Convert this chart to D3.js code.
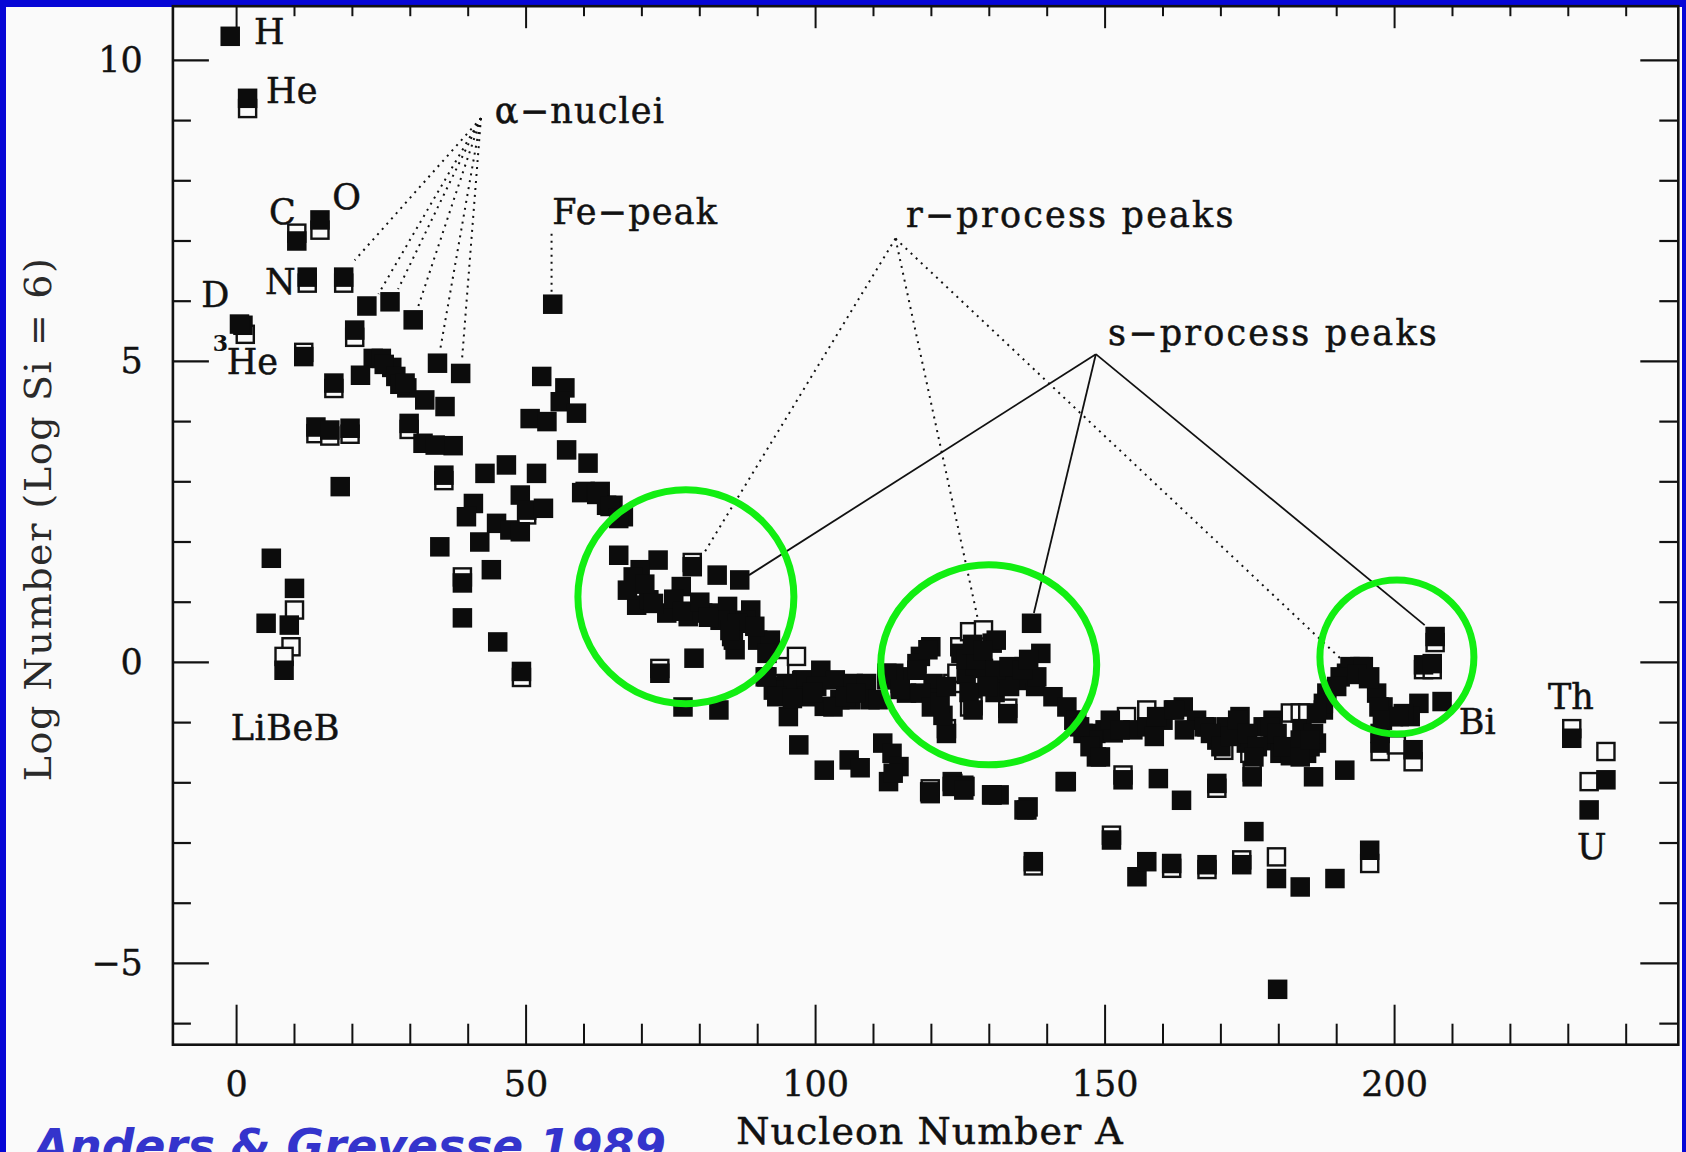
<!DOCTYPE html>
<html>
<head>
<meta charset="utf-8">
<script src="https://cdn.jsdelivr.net/npm/d3@7"></script>
<style>
  html, body { margin: 0; padding: 0; background: #0606d6; }
  svg { display: block; }
</style>
</head>
<body>
<div id="chart"></div>
<script>
// solar system abundances (A, log N with log Si = 6)
// filled squares
var filledMass = [
  -1.1, 1.9, 1.1, 0.5, 6.0, 10, 5.1, 9.1, 8.2, 10.4, 14.4, 12.2, 18.5, 11.6, 20.4,
  22.5, 26.5, 30.5, 34.7, 38.7, 23.6, 26.8, 21.4, 29.4, 16.8, 25, 25.5, 27.5, 28.2,
  13.7, 16.1, 19.6, 29.8, 32.2, 37.4, 36, 32.5, 29.1, 34.3, 17.9,
  35.8, 42.9, 46.6, 51.8, 40.9, 39.7, 49, 50.1, 53, 44.9, 47.2, 49, 35.1, 42, 39, 39, 44, 45.1, 49.2,
  54.6, 52.7, 56.7, 55.9, 58.7, 50.7, 53.6, 57, 60.7, 60.2, 62.8, 65, 66.8, 59.6, 62.2, 63.9,
  62.3, 64.5, 66, 66, 72.8, 69.7, 68.5, 78.7, 83, 86.9, 76.8, 69.1, 71.2, 74.3, 78, 80.5, 82.3,
  84.8, 88.8, 87.9, 85.5, 86.1, 90, 92.2, 79, 73.1, 77.1, 83.3, 91.3, 93.2, 97.8, 100.9, 103.4,
  67.5, 70.5, 72, 75.5, 77, 80, 83.5, 86.5, 89.5, 81.5, 85.8, 85.2, 91.6,
  95.3, 97.1, 101.5, 105.8, 107.7, 111.6, 113.2, 114.4, 112.6, 119.7, 123.7, 125.8, 130.5, 131.7,
  136.7, 143.1, 136,
  95, 92.7, 100.2, 104.2, 106.5, 108.8, 109.4, 112.3, 114.6, 115.7, 118.1, 119.9, 120.3, 121,
  122.6, 91.6, 93.3, 98.5, 101.5, 106, 96, 99.5, 103, 105.2, 107, 110.8,
  113.5, 117.5, 119.4, 118.1, 120, 122, 128.4, 130.5, 131.2, 132.3, 135, 136, 137.3, 138.9, 138,
  141, 143.4, 144.6, 148.4, 150, 112.3, 114.6, 117.5, 121.5, 122.6, 135.3, 138.2, 146.2, 147.9,
  148.5, 126, 127.5, 129, 131, 133.5, 125.1, 126, 127.7, 127.1, 128.9, 131.1, 133.4, 135.7,
  136.8, 129.8, 126.5, 127.2, 133.2,
  113.4, 119.8, 123.6, 125.6, 130.4, 136.5, 137.6, 143.3, 153.1, 151.1, 155.5, 157.2, 161.5,
  159.2, 163.2, 169.3, 167.6, 173.6, 175.4, 175.7, 179.6, 183.7, 186, 189.7, 191.4, 195.7, 179.8,
  145.1, 151.4, 154.8, 160, 161.8, 163.5, 165.8, 167.6, 169.3, 171, 173.3, 174.4, 177.3, 179,
  179, 184, 186.5, 184.8, 180.2, 182, 187.7, 188.3, 191.7, 194, 195.7, 196.9, 198, 199.8, 197.5,
  145.6, 147.4, 149.2, 150.9, 152.6, 157.2, 158.9, 158.5, 162, 163.7, 167.1, 168.2, 170, 171.7,
  172.9, 174.6, 176.3, 175.7, 178.5, 179.7, 180.8, 183.7, 185.4, 183.7, 186,
  192.3, 194.6, 190.6, 190, 193.5, 195.5, 197.3, 197.9, 187.7, 186.5, 185.4,
  207, 205, 206.5, 208.2, 204.2, 202.7, 201.5, 200.8, 197.5, 203.2,
  230.6, 236.5, 233.6
];
var filledLog = [
  10.4, 9.37, 5.6, 5.62, 1.73, 1.23, 0.65, 0.62, -0.13, 7.0, 7.35, 6.4, 6.4, 5.08, 5.52,
  5.92, 5.99, 5.69, 4.97, 4.8, 5.05, 4.9, 4.77, 4.56, 4.64, 5.05, 4.95, 4.75, 4.62,
  3.91, 3.86, 3.89, 3.97, 3.64, 3.6, 4.25, 4.36, 4.64, 3.61, 2.92,
  3.11, 3.14, 3.28, 3.14, 2.64, 2.42, 2.78, 2.53, 2.56, 2.31, 2.2, 2.17, 1.92, 2.0, 1.32, 0.74, 1.54, 0.34, -0.15,
  5.95, 4.75, 4.56, 4.33, 4.14, 4.05, 4.0, 3.53, 3.31, 2.84, 2.84, 2.61, 2.42, 2.82, 2.79, 2.61,
  2.81, 2.59, 2.39, 1.78, 1.70, 1.54, 1.42, 1.59, 1.45, 1.37, 1.26, 0.95, 1.04, 0.82, 0.76, 0.82, 0.82,
  0.93, 0.87, 0.70, 0.43, 0.21, 0.37, 0.37, 0.07, -0.18, -0.74, -0.79, -0.24, -0.4, -0.29, -0.13, -0.29,
  1.2, 1.3, 0.98, 1.05, 0.85, 1.0, 0.7, 0.65, 0.6, 0.75, 0.37, 0.53, 0.15,
  -0.9, -1.37, -1.79, -1.62, -1.75, -1.34, -1.51, -1.73, -1.98, -2.15, -2.01, -2.06, -2.2, -2.2,
  -2.4, -1.98, -2.45,
  -0.35, -0.46, -0.4, -0.62, -0.35, -0.35, -0.62, -0.29, -0.24, -0.51, 0.1, 0.26, -0.35, -0.6,
  -1.18, -0.24, -0.57, -0.57, -0.73, -0.62, -0.6, -0.5, -0.74, -0.57, -0.51, -0.62,
  -0.18, -0.02, 0.21, -0.51, -0.74, -0.88, 0.1, 0.32, 0.37, -0.24, -0.3, -0.07, 0.65, 0.15, -0.4,
  -0.57, -0.74, -0.96, -1.18, -1.12, -0.18, -0.45, -0.13, -0.67, -0.4, -0.18, -0.24, -1.18, -1.29,
  -1.57, -0.2, -0.05, -0.1, -0.5, -0.4, 0.15, 0.05, 0.05, 0.3, 0.2, -0.13, -0.07, -0.13,
  0.05, -0.4, -0.5, -0.79, -0.85,
  -1.84, -2.18, -2.06, -2.12, -2.2, -2.45, -3.31, -1.98, -1.95, -2.95, -3.56, -3.31, -3.34,
  -1.93, -2.29, -2.01, -3.36, -3.36, -1.9, -2.81, -3.59, -3.73, -1.9, -3.59, -1.79, -3.12, -5.43,
  -0.96, -1.17, -1.12, -0.96, -0.79, -0.74, -0.96, -1.07, -1.29, -1.07, -0.9, -1.34, -1.07, -0.96,
  -1.3, -1.1, -1.34, -1.51, -1.51, -1.55, -0.79, -0.51, -0.18, -0.07, -0.24, -0.51, -0.74, -0.9, -1.18,
  -1.07, -1.4, -1.57, -0.96, -1.12, -1.07, -0.9, -1.23, -0.79, -1.12, -1.07, -1.18, -1.4, -1.23,
  -0.96, -1.18, -1.4, -1.57, -1.07, -1.18, -1.4, -1.29, -1.4, -1.57, -1.18,
  -0.07, -0.07, -0.24, -0.4, -0.2, -0.27, -0.74, -0.96, -0.68, -0.85, -1.29,
  0.43, -0.04, -0.02, -0.65, -0.68, -0.9, -0.85, -0.9, -1.34, -1.45,
  -1.26, -1.95, -2.45
];
// open squares
var openMass = [
  1.9, 10.4, 14.4, 12.2, 18.5, 1.5, 11.6, 20.4, 16.8, 29.8, 35.8, 13.7, 16.1, 19.6,
  39, 49.2, 50.1, 73.1, 78.7, 10, 9.4, 8.2,
  93.8, 96.7, 97.6, 122.6, 123.7, 124.9, 126.6, 129, 126.6, 129.6, 124.4, 114.6, 127.2, 133.2, 133,
  119.8, 123.6, 125.6, 151.1, 153.1, 137.6, 161.5, 169.3, 167.6, 173.6, 175.4, 195.7, 179.6,
  153.7, 157.2, 170.5, 175, 182, 183.7, 185,
  207, 205, 206.5, 197.5, 203.2, 200.3, 230.6, 236.5, 233.6
];
var openLog = [
  9.2, 7.13, 7.18, 6.3, 6.3, 5.45, 5.15, 5.4, 4.55, 3.87, 3.02, 3.8, 3.76, 3.79,
  1.42, -0.25, 2.45, -0.1, 1.66, 0.87, 0.26, 0.1,
  -0.07, 0.1, -0.3, -1.1, -0.35, 0.26, 0.51, 0.54, -0.74, -0.4, -0.18, -0.35, -0.72, -0.76, -0.18,
  -2.1, -1.98, -2.04, -2.87, -1.87, -3.38, -3.42, -2.09, -3.44, -3.28, -1.82, -3.34, -3.23,
  -0.9, -0.79, -1.46, -1.51, -0.84, -0.84, -0.84,
  0.33, -0.12, -0.12, -1.48, -1.65, -1.37, -1.1, -1.48, -1.98
];

// axis ticks
var xTickValues = [0, 50, 100, 150, 200];
var yTickValues = [10, 5, 0, -5];
var yTickLabels = ["10", "5", "0", "\u22125"];

// labels on the figure (A, log N)
var labelText = ["H", "He", "C", "O", "N", "D", "He", "LiBeB", "\u03b1\u2212nuclei", "Fe\u2212peak",
  "r\u2212process peaks", "s\u2212process peaks", "Th", "Bi", "U"];
var labelMass = [3.0, 5.1, 5.6, 16.5, 4.9, -6.1, -1.7, -1.0, 44.6, 54.5, 115.6, 150.5, 226.5, 211.1, 231.5];
var labelLog = [10.47, 9.49, 7.48, 7.73, 6.32, 6.1, 4.99, -1.09, 9.16, 7.48, 7.43, 5.47, -0.57, -0.99, -3.07];
var labelSpacing = [0, 0, 0, 0, 0, 0, 0, 0.5, 1.2, 1.2, 2.2, 2.2, 0, 0, 0];

// pointer lines: hub and targets (A, log N)
var alphaHub = [42.2, 9.04];
var alphaTargets = [[20.4, 6.68], [24.5, 6.12], [27.9, 6.2], [31.3, 5.89], [35.1, 5.16], [38.9, 4.99]];
var feLine = [[54.4, 7.12], [54.4, 6.14]];
var rHub = [113.8, 7.04];
var rTargets = [[80.5, 1.78], [128, 0.73], [190.6, 0.07]];
var sHub = [148.4, 5.12];
var sTargets = [[88.5, 1.45], [137.7, 0.82], [205.2, 0.62]];

// highlighted peaks (centre A, log N)
var circleMass = [77.6, 129.9, 200.4];
var circleLog = [1.09, -0.04, 0.09];

var drawChart = function() {
  var width = 1686;
  var height = 1152;
  var serif = "'DejaVu Serif', serif";
  var ink = "#111";

  var svg = d3.select("#chart").append("svg")
    .attr("width", width)
    .attr("height", height);

  // blue slide border with the scanned page on top
  svg.append("rect").attr("width", width).attr("height", height).attr("fill", "#0606d6");
  svg.append("rect")
    .attr("x", 6).attr("y", 7)
    .attr("width", 1676).attr("height", height - 7)
    .attr("fill", "#fafafa");

  var x = d3.scaleLinear().domain([-11, 249]).range([172.9, 1678.3]);
  var y = d3.scaleLinear().domain([-6.35, 10.9]).range([1044.7, 6.2]);

  var frame = svg.append("g");
  frame.append("rect")
    .attr("x", x(-11)).attr("y", y(10.9))
    .attr("width", x(249) - x(-11)).attr("height", y(-6.35) - y(10.9))
    .attr("fill", "none").attr("stroke", ink).attr("stroke-width", 2.6);

  // left and right ticks
  var yTicks = d3.range(-6, 11);
  frame.selectAll("line.yl").data(yTicks).enter().append("line")
    .attr("x1", x(-11)).attr("x2", function(d){ return x(-11) + (d % 5 === 0 ? 36 : 18); })
    .attr("y1", function(d){ return y(d); }).attr("y2", function(d){ return y(d); })
    .attr("stroke", ink).attr("stroke-width", 2.2);
  frame.selectAll("line.yr").data(yTicks).enter().append("line")
    .attr("x1", x(249)).attr("x2", function(d){ return x(249) - (d % 5 === 0 ? 38 : 19); })
    .attr("y1", function(d){ return y(d); }).attr("y2", function(d){ return y(d); })
    .attr("stroke", ink).attr("stroke-width", 2.2);

  // bottom and top ticks
  var xTicks = d3.range(0, 241, 10);
  frame.selectAll("line.xb").data(xTicks).enter().append("line")
    .attr("x1", function(d){ return x(d); }).attr("x2", function(d){ return x(d); })
    .attr("y1", y(-6.35)).attr("y2", function(d){ return y(-6.35) - (d % 50 === 0 ? 40 : 21); })
    .attr("stroke", ink).attr("stroke-width", 2);
  frame.selectAll("line.xt").data(xTicks).enter().append("line")
    .attr("x1", function(d){ return x(d); }).attr("x2", function(d){ return x(d); })
    .attr("y1", y(10.9)).attr("y2", function(d){ return y(10.9) + (d % 50 === 0 ? 22 : 10); })
    .attr("stroke", ink).attr("stroke-width", 2);

  // tick labels
  frame.selectAll("text.xl").data(xTickValues).enter().append("text")
    .attr("x", function(d){ return x(d); })
    .attr("y", y(-6.35) + 39)
    .attr("text-anchor", "middle").attr("dominant-baseline", "central")
    .attr("font-family", serif).attr("font-size", 35).attr("fill", ink)
    .attr("stroke", ink).attr("stroke-width", 0.4)
    .text(function(d){ return d; });
  frame.selectAll("text.yl").data(yTickValues).enter().append("text")
    .attr("x", x(-11) - 30)
    .attr("y", function(d){ return y(d); })
    .attr("text-anchor", "end").attr("dominant-baseline", "central")
    .attr("font-family", serif).attr("font-size", 35).attr("fill", ink)
    .attr("stroke", ink).attr("stroke-width", 0.4)
    .text(function(d, i){ return yTickLabels[i]; });

  // axis titles
  svg.append("text")
    .attr("x", 930).attr("y", 1131)
    .attr("text-anchor", "middle").attr("dominant-baseline", "central")
    .attr("font-family", serif).attr("font-size", 38).attr("letter-spacing", 1)
    .attr("fill", ink).attr("stroke", ink).attr("stroke-width", 0.5)
    .text("Nucleon Number A");
  svg.append("text")
    .attr("transform", "translate(38,519) rotate(-90)")
    .attr("text-anchor", "middle").attr("dominant-baseline", "central")
    .attr("font-family", serif).attr("font-size", 38).attr("letter-spacing", 1.6)
    .attr("fill", "#2a2a2a")
    .text("Log Number (Log Si = 6)");

  // pointer lines
  var pointers = svg.append("g").attr("fill", "none").attr("stroke", ink);
  alphaTargets.forEach(function(t){
    pointers.append("line")
      .attr("x1", x(alphaHub[0])).attr("y1", y(alphaHub[1]))
      .attr("x2", x(t[0])).attr("y2", y(t[1]))
      .attr("stroke-width", 2).attr("stroke-dasharray", "2,5");
  });
  pointers.append("line")
    .attr("x1", x(feLine[0][0])).attr("y1", y(feLine[0][1]))
    .attr("x2", x(feLine[1][0])).attr("y2", y(feLine[1][1]))
    .attr("stroke-width", 2).attr("stroke-dasharray", "2,5");
  rTargets.forEach(function(t){
    pointers.append("line")
      .attr("x1", x(rHub[0])).attr("y1", y(rHub[1]))
      .attr("x2", x(t[0])).attr("y2", y(t[1]))
      .attr("stroke-width", 2).attr("stroke-dasharray", "2,5");
  });
  sTargets.forEach(function(t){
    pointers.append("line")
      .attr("x1", x(sHub[0])).attr("y1", y(sHub[1]))
      .attr("x2", x(t[0])).attr("y2", y(t[1]))
      .attr("stroke-width", 1.8);
  });

  // squares: open ones first, filled ones on top
  var side = 19.5;
  var openData = d3.range(openMass.length);
  svg.append("g").selectAll("rect").data(openData).enter().append("rect")
    .attr("x", function(i){ return x(openMass[i]) - side / 2 + 1.2; })
    .attr("y", function(i){ return y(openLog[i]) - side / 2 + 1.2; })
    .attr("width", side - 2.4).attr("height", side - 2.4)
    .attr("fill", "#fafafa").attr("stroke", ink).attr("stroke-width", 2.4);
  var filledData = d3.range(filledMass.length);
  svg.append("g").selectAll("rect").data(filledData).enter().append("rect")
    .attr("x", function(i){ return x(filledMass[i]) - side / 2; })
    .attr("y", function(i){ return y(filledLog[i]) - side / 2; })
    .attr("width", side).attr("height", side)
    .attr("fill", "#0c0c0c");

  // text labels
  svg.append("g").selectAll("text").data(labelText).enter().append("text")
    .attr("x", function(d, i){ return x(labelMass[i]); })
    .attr("y", function(d, i){ return y(labelLog[i]); })
    .attr("dominant-baseline", "central")
    .attr("font-family", serif).attr("font-size", 35)
    .attr("letter-spacing", function(d, i){ return labelSpacing[i]; })
    .attr("fill", ink).attr("stroke", ink).attr("stroke-width", 0.5)
    .text(function(d){ return d; });
  // superscript 3 of 3He
  svg.append("text")
    .attr("x", x(-4.1)).attr("y", y(5.3))
    .attr("dominant-baseline", "central")
    .attr("font-family", serif).attr("font-size", 22).attr("font-weight", "bold").attr("fill", ink)
    .text("3");

  // green circles
  svg.append("g").selectAll("ellipse").data([0, 1, 2]).enter().append("ellipse")
    .attr("cx", function(i){ return x(circleMass[i]); })
    .attr("cy", function(i){ return y(circleLog[i]); })
    .attr("rx", function(i){ return [108, 108, 77][i]; })
    .attr("ry", function(i){ return [107, 100, 77][i]; })
    .attr("fill", "none").attr("stroke", "#12ee12").attr("stroke-width", 7);

  // reference caption, cut by the bottom of the slide as in the original
  svg.append("text")
    .attr("x", 34).attr("y", 1162)
    .attr("font-family", "'DejaVu Sans', sans-serif")
    .attr("font-size", 46).attr("font-weight", "bold").attr("font-style", "italic")
    .attr("textLength", 632).attr("lengthAdjust", "spacingAndGlyphs")
    .attr("fill", "#3434cc")
    .text("Anders & Grevesse 1989");
};

drawChart();
</script>
</body>
</html>
